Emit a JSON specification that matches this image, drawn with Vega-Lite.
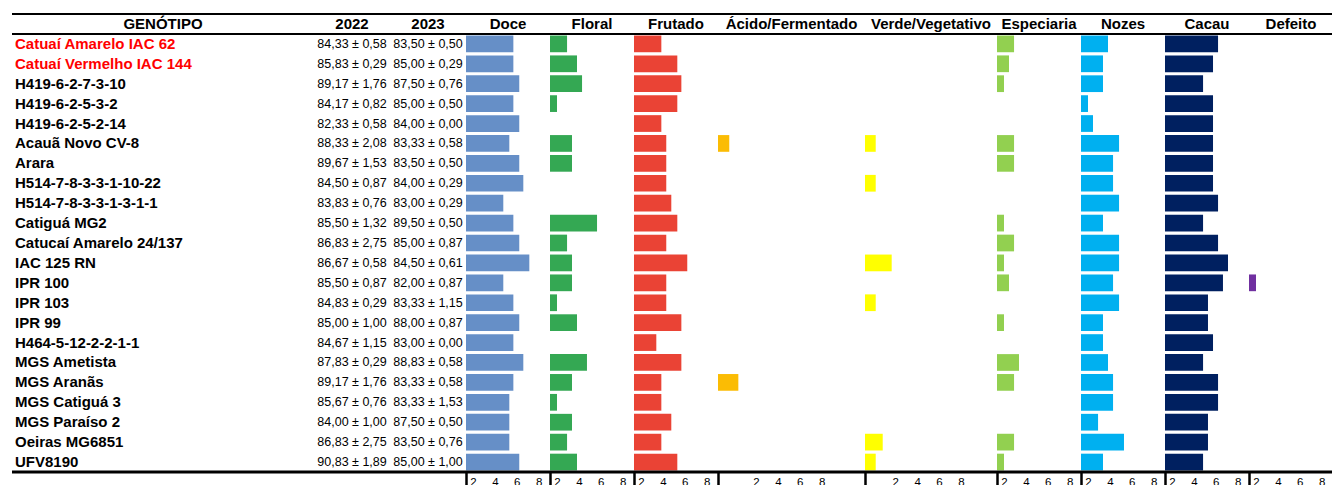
{
  "$schema": "https://vega.github.io/schema/vega-lite/v6.json",
  "padding": {"left": 10, "top": 12, "right": 0, "bottom": 0},
  "spacing": 0,
  "bounds": "flush",
  "params": [
    {"name": "ordem", "value": ["GENÓTIPO","Catuaí Amarelo IAC 62","Catuaí Vermelho IAC 144","H419-6-2-7-3-10","H419-6-2-5-3-2","H419-6-2-5-2-14","Acauã Novo CV-8","Arara","H514-7-8-3-3-1-10-22","H514-7-8-3-3-1-3-1-1","Catiguá MG2","Catucaí Amarelo 24/137","IAC 125 RN","IPR 100","IPR 103","IPR 99","H464-5-12-2-2-1-1","MGS Ametista","MGS Aranãs","MGS Catiguá 3","MGS Paraíso 2","Oeiras MG6851","UFV8190"]}
  ],
  "data": {"values": [
    {"genotipo":"Catuaí Amarelo IAC 62","testemunha":"sim","a2022":"84,33 ± 0,58","a2023":"83,50 ± 0,50","Doce":5.69,"Floral":2.92,"Frutado":3.86,"Acido":null,"Verde":null,"Especiaria":2.92,"Nozes":3.83,"Cacau":6.21,"Defeito":null},
    {"genotipo":"Catuaí Vermelho IAC 144","testemunha":"sim","a2022":"85,83 ± 0,29","a2023":"85,00 ± 0,29","Doce":5.69,"Floral":3.83,"Frutado":5.32,"Acido":null,"Verde":null,"Especiaria":2.46,"Nozes":3.37,"Cacau":5.75,"Defeito":null},
    {"genotipo":"H419-6-2-7-3-10","testemunha":"não","a2022":"89,17 ± 1,76","a2023":"87,50 ± 0,76","Doce":6.23,"Floral":4.29,"Frutado":5.69,"Acido":null,"Verde":null,"Especiaria":2.0,"Nozes":3.37,"Cacau":4.84,"Defeito":null},
    {"genotipo":"H419-6-2-5-3-2","testemunha":"não","a2022":"84,17 ± 0,82","a2023":"85,00 ± 0,50","Doce":5.69,"Floral":2.0,"Frutado":5.32,"Acido":null,"Verde":null,"Especiaria":null,"Nozes":2.0,"Cacau":5.75,"Defeito":null},
    {"genotipo":"H419-6-2-5-2-14","testemunha":"não","a2022":"82,33 ± 0,58","a2023":"84,00 ± 0,00","Doce":6.23,"Floral":null,"Frutado":3.86,"Acido":null,"Verde":null,"Especiaria":null,"Nozes":2.46,"Cacau":5.75,"Defeito":null},
    {"genotipo":"Acauã Novo CV-8","testemunha":"não","a2022":"88,33 ± 2,08","a2023":"83,33 ± 0,58","Doce":5.32,"Floral":3.37,"Frutado":4.31,"Acido":-0.44,"Verde":0.21,"Especiaria":2.92,"Nozes":4.84,"Cacau":5.75,"Defeito":null},
    {"genotipo":"Arara","testemunha":"não","a2022":"89,67 ± 1,53","a2023":"83,50 ± 0,50","Doce":6.23,"Floral":3.37,"Frutado":4.31,"Acido":null,"Verde":null,"Especiaria":2.92,"Nozes":4.29,"Cacau":5.75,"Defeito":null},
    {"genotipo":"H514-7-8-3-3-1-10-22","testemunha":"não","a2022":"84,50 ± 0,87","a2023":"84,00 ± 0,29","Doce":6.6,"Floral":null,"Frutado":4.31,"Acido":null,"Verde":0.21,"Especiaria":null,"Nozes":4.29,"Cacau":5.75,"Defeito":null},
    {"genotipo":"H514-7-8-3-3-1-3-1-1","testemunha":"não","a2022":"83,83 ± 0,76","a2023":"83,00 ± 0,29","Doce":4.77,"Floral":null,"Frutado":4.77,"Acido":null,"Verde":null,"Especiaria":null,"Nozes":4.84,"Cacau":6.21,"Defeito":null},
    {"genotipo":"Catiguá MG2","testemunha":"não","a2022":"85,50 ± 1,32","a2023":"89,50 ± 0,50","Doce":5.69,"Floral":5.66,"Frutado":5.32,"Acido":null,"Verde":null,"Especiaria":2.0,"Nozes":3.37,"Cacau":4.84,"Defeito":null},
    {"genotipo":"Catucaí Amarelo 24/137","testemunha":"não","a2022":"86,83 ± 2,75","a2023":"85,00 ± 0,87","Doce":6.23,"Floral":2.92,"Frutado":4.31,"Acido":null,"Verde":null,"Especiaria":2.92,"Nozes":4.84,"Cacau":6.21,"Defeito":null},
    {"genotipo":"IAC 125 RN","testemunha":"não","a2022":"86,67 ± 0,58","a2023":"84,50 ± 0,61","Doce":7.15,"Floral":3.37,"Frutado":6.23,"Acido":null,"Verde":1.67,"Especiaria":2.0,"Nozes":4.84,"Cacau":7.12,"Defeito":null},
    {"genotipo":"IPR 100","testemunha":"não","a2022":"85,50 ± 0,87","a2023":"82,00 ± 0,87","Doce":4.77,"Floral":3.37,"Frutado":4.31,"Acido":null,"Verde":null,"Especiaria":2.46,"Nozes":4.29,"Cacau":6.66,"Defeito":2.0},
    {"genotipo":"IPR 103","testemunha":"não","a2022":"84,83 ± 0,29","a2023":"83,33 ± 1,15","Doce":5.69,"Floral":2.0,"Frutado":4.31,"Acido":null,"Verde":0.21,"Especiaria":null,"Nozes":4.84,"Cacau":5.29,"Defeito":null},
    {"genotipo":"IPR 99","testemunha":"não","a2022":"85,00 ± 1,00","a2023":"88,00 ± 0,87","Doce":6.23,"Floral":3.83,"Frutado":5.69,"Acido":null,"Verde":null,"Especiaria":2.0,"Nozes":3.37,"Cacau":5.29,"Defeito":null},
    {"genotipo":"H464-5-12-2-2-1-1","testemunha":"não","a2022":"84,67 ± 1,15","a2023":"83,00 ± 0,00","Doce":5.69,"Floral":null,"Frutado":3.40,"Acido":null,"Verde":null,"Especiaria":null,"Nozes":3.37,"Cacau":5.75,"Defeito":null},
    {"genotipo":"MGS Ametista","testemunha":"não","a2022":"87,83 ± 0,29","a2023":"88,83 ± 0,58","Doce":6.6,"Floral":4.74,"Frutado":5.69,"Acido":null,"Verde":null,"Especiaria":3.37,"Nozes":3.83,"Cacau":4.84,"Defeito":null},
    {"genotipo":"MGS Aranãs","testemunha":"não","a2022":"89,17 ± 1,76","a2023":"83,33 ± 0,58","Doce":5.69,"Floral":3.37,"Frutado":3.86,"Acido":0.39,"Verde":null,"Especiaria":2.92,"Nozes":4.29,"Cacau":6.21,"Defeito":null},
    {"genotipo":"MGS Catiguá 3","testemunha":"não","a2022":"85,67 ± 0,76","a2023":"83,33 ± 1,53","Doce":5.32,"Floral":2.0,"Frutado":3.86,"Acido":null,"Verde":null,"Especiaria":null,"Nozes":4.29,"Cacau":6.21,"Defeito":null},
    {"genotipo":"MGS Paraíso 2","testemunha":"não","a2022":"84,00 ± 1,00","a2023":"87,50 ± 0,50","Doce":5.32,"Floral":3.37,"Frutado":4.77,"Acido":null,"Verde":null,"Especiaria":null,"Nozes":2.92,"Cacau":5.29,"Defeito":null},
    {"genotipo":"Oeiras MG6851","testemunha":"não","a2022":"86,83 ± 2,75","a2023":"83,50 ± 0,76","Doce":5.32,"Floral":2.92,"Frutado":3.86,"Acido":null,"Verde":0.85,"Especiaria":2.92,"Nozes":5.29,"Cacau":5.29,"Defeito":null},
    {"genotipo":"UFV8190","testemunha":"não","a2022":"90,83 ± 1,89","a2023":"85,00 ± 1,00","Doce":6.23,"Floral":3.83,"Frutado":5.32,"Acido":null,"Verde":0.21,"Especiaria":2.0,"Nozes":3.37,"Cacau":4.84,"Defeito":null}
  ]},
  "hconcat": [
    {"width": 302, "height": 458, "layer": [
      {"mark": {"type": "text", "align": "left", "dx": 3, "fontSize": 15, "fontWeight": "bold"},
       "encoding": {"y": {"field": "genotipo", "type": "nominal", "scale": {"type": "band", "domain": {"expr": "ordem"}, "paddingInner": 0, "paddingOuter": 0}, "axis": null},
         "x": {"datum": 0, "type": "quantitative", "scale": {"domain": [0, 1], "nice": false}, "axis": null},
         "text": {"field": "genotipo"},
         "color": {"field": "testemunha", "type": "nominal", "scale": {"domain": ["sim", "não"], "range": ["#FF0000", "#000000"]}, "legend": null}}},
      {"transform": [{"aggregate": [{"op": "count", "as": "n"}]}], "mark": {"type": "text", "text": "GENÓTIPO", "fontSize": 15, "fontWeight": "bold", "color": "#000000"},
       "encoding": {"y": {"datum": "GENÓTIPO", "type": "nominal", "scale": {"type": "band", "domain": {"expr": "ordem"}, "paddingInner": 0, "paddingOuter": 0}, "axis": null}, "x": {"datum": 0.5, "type": "quantitative"}}},
      {"transform": [{"aggregate": [{"op": "count", "as": "n"}]}], "mark": {"type": "rule", "strokeWidth": 2, "color": "#000000"}, "encoding": {"y": {"datum": "GENÓTIPO", "type": "nominal", "bandPosition": 0, "scale": {"type": "band", "domain": {"expr": "ordem"}, "paddingInner": 0, "paddingOuter": 0}, "axis": null}}},
      {"transform": [{"aggregate": [{"op": "count", "as": "n"}]}], "mark": {"type": "rule", "strokeWidth": 2, "color": "#000000"}, "encoding": {"y": {"datum": "Catuaí Amarelo IAC 62", "type": "nominal", "bandPosition": 0, "scale": {"type": "band", "domain": {"expr": "ordem"}, "paddingInner": 0, "paddingOuter": 0}, "axis": null}}},
      {"transform": [{"aggregate": [{"op": "count", "as": "n"}]}], "mark": {"type": "rule", "strokeWidth": 3, "color": "#000000"}, "encoding": {"y": {"datum": "UFV8190", "type": "nominal", "bandPosition": 1, "scale": {"type": "band", "domain": {"expr": "ordem"}, "paddingInner": 0, "paddingOuter": 0}, "axis": null}}}
    ]},
    {"width": 76, "height": 458, "layer": [
      {"mark": {"type": "text", "fontSize": 12.5, "color": "#000000"},
       "encoding": {"y": {"field": "genotipo", "type": "nominal", "scale": {"type": "band", "domain": {"expr": "ordem"}, "paddingInner": 0, "paddingOuter": 0}, "axis": null}, "text": {"field": "a2022"}}},
      {"transform": [{"aggregate": [{"op": "count", "as": "n"}]}], "mark": {"type": "text", "text": "2022", "fontSize": 15, "fontWeight": "bold", "color": "#000000"}, "encoding": {"y": {"datum": "GENÓTIPO", "type": "nominal", "scale": {"type": "band", "domain": {"expr": "ordem"}, "paddingInner": 0, "paddingOuter": 0}, "axis": null}}},
      {"transform": [{"aggregate": [{"op": "count", "as": "n"}]}], "mark": {"type": "rule", "strokeWidth": 2, "color": "#000000"}, "encoding": {"y": {"datum": "GENÓTIPO", "type": "nominal", "bandPosition": 0, "scale": {"type": "band", "domain": {"expr": "ordem"}, "paddingInner": 0, "paddingOuter": 0}, "axis": null}}},
      {"transform": [{"aggregate": [{"op": "count", "as": "n"}]}], "mark": {"type": "rule", "strokeWidth": 2, "color": "#000000"}, "encoding": {"y": {"datum": "Catuaí Amarelo IAC 62", "type": "nominal", "bandPosition": 0, "scale": {"type": "band", "domain": {"expr": "ordem"}, "paddingInner": 0, "paddingOuter": 0}, "axis": null}}},
      {"transform": [{"aggregate": [{"op": "count", "as": "n"}]}], "mark": {"type": "rule", "strokeWidth": 3, "color": "#000000"}, "encoding": {"y": {"datum": "UFV8190", "type": "nominal", "bandPosition": 1, "scale": {"type": "band", "domain": {"expr": "ordem"}, "paddingInner": 0, "paddingOuter": 0}, "axis": null}}}
    ]},
    {"width": 76, "height": 458, "layer": [
      {"mark": {"type": "text", "fontSize": 12.5, "color": "#000000"},
       "encoding": {"y": {"field": "genotipo", "type": "nominal", "scale": {"type": "band", "domain": {"expr": "ordem"}, "paddingInner": 0, "paddingOuter": 0}, "axis": null}, "text": {"field": "a2023"}}},
      {"transform": [{"aggregate": [{"op": "count", "as": "n"}]}], "mark": {"type": "text", "text": "2023", "fontSize": 15, "fontWeight": "bold", "color": "#000000"}, "encoding": {"y": {"datum": "GENÓTIPO", "type": "nominal", "scale": {"type": "band", "domain": {"expr": "ordem"}, "paddingInner": 0, "paddingOuter": 0}, "axis": null}}},
      {"transform": [{"aggregate": [{"op": "count", "as": "n"}]}], "mark": {"type": "rule", "strokeWidth": 2, "color": "#000000"}, "encoding": {"y": {"datum": "GENÓTIPO", "type": "nominal", "bandPosition": 0, "scale": {"type": "band", "domain": {"expr": "ordem"}, "paddingInner": 0, "paddingOuter": 0}, "axis": null}}},
      {"transform": [{"aggregate": [{"op": "count", "as": "n"}]}], "mark": {"type": "rule", "strokeWidth": 2, "color": "#000000"}, "encoding": {"y": {"datum": "Catuaí Amarelo IAC 62", "type": "nominal", "bandPosition": 0, "scale": {"type": "band", "domain": {"expr": "ordem"}, "paddingInner": 0, "paddingOuter": 0}, "axis": null}}},
      {"transform": [{"aggregate": [{"op": "count", "as": "n"}]}], "mark": {"type": "rule", "strokeWidth": 3, "color": "#000000"}, "encoding": {"y": {"datum": "UFV8190", "type": "nominal", "bandPosition": 1, "scale": {"type": "band", "domain": {"expr": "ordem"}, "paddingInner": 0, "paddingOuter": 0}, "axis": null}}}
    ]},
    {"width": 84, "height": 458, "layer": [
      {"transform": [{"filter": "isValid(datum.Doce)"}], "mark": {"type": "bar", "color": "#668FC7", "height": {"band": 0.84}},
       "encoding": {"y": {"field": "genotipo", "type": "nominal", "scale": {"type": "band", "domain": {"expr": "ordem"}, "paddingInner": 0, "paddingOuter": 0}, "axis": null},
         "x": {"field": "Doce", "type": "quantitative", "scale": {"domain": [1.36, 9.04], "nice": false, "zero": false},
           "axis": {"values": [1.36, 2, 4, 6, 8], "format": ".0f", "title": null, "domain": false, "grid": false, "tickSize": 15, "tickWidth": 2.5, "tickColor": {"condition": {"test": "datum.value < 1.9", "value": "#000000"}, "value": "transparent"}, "labelExpr": "datum.value < 1.9 ? '' : datum.label", "labelPadding": -11, "labelFontSize": 11.5, "labelColor": "#000000", "labelFlush": false, "labelOverlap": false}},
         "x2": {"datum": 1.36}}},
      {"transform": [{"aggregate": [{"op": "count", "as": "n"}]}], "mark": {"type": "text", "text": "Doce", "fontSize": 15, "fontWeight": "bold", "color": "#000000"}, "encoding": {"y": {"datum": "GENÓTIPO", "type": "nominal", "scale": {"type": "band", "domain": {"expr": "ordem"}, "paddingInner": 0, "paddingOuter": 0}, "axis": null}}},
      {"transform": [{"aggregate": [{"op": "count", "as": "n"}]}], "mark": {"type": "rule", "strokeWidth": 2, "color": "#000000"}, "encoding": {"y": {"datum": "GENÓTIPO", "type": "nominal", "bandPosition": 0, "scale": {"type": "band", "domain": {"expr": "ordem"}, "paddingInner": 0, "paddingOuter": 0}, "axis": null}}},
      {"transform": [{"aggregate": [{"op": "count", "as": "n"}]}], "mark": {"type": "rule", "strokeWidth": 2, "color": "#000000"}, "encoding": {"y": {"datum": "Catuaí Amarelo IAC 62", "type": "nominal", "bandPosition": 0, "scale": {"type": "band", "domain": {"expr": "ordem"}, "paddingInner": 0, "paddingOuter": 0}, "axis": null}}},
      {"transform": [{"aggregate": [{"op": "count", "as": "n"}]}], "mark": {"type": "rule", "strokeWidth": 3, "color": "#000000"}, "encoding": {"y": {"datum": "UFV8190", "type": "nominal", "bandPosition": 1, "scale": {"type": "band", "domain": {"expr": "ordem"}, "paddingInner": 0, "paddingOuter": 0}, "axis": null}}}
    ]},
    {"width": 84, "height": 458, "layer": [
      {"transform": [{"filter": "isValid(datum.Floral)"}], "mark": {"type": "bar", "color": "#34A853", "height": {"band": 0.84}},
       "encoding": {"y": {"field": "genotipo", "type": "nominal", "scale": {"type": "band", "domain": {"expr": "ordem"}, "paddingInner": 0, "paddingOuter": 0}, "axis": null},
         "x": {"field": "Floral", "type": "quantitative", "scale": {"domain": [1.36, 9.04], "nice": false, "zero": false},
           "axis": {"values": [1.36, 2, 4, 6, 8], "format": ".0f", "title": null, "domain": false, "grid": false, "tickSize": 15, "tickWidth": 2.5, "tickColor": {"condition": {"test": "datum.value < 1.9", "value": "#000000"}, "value": "transparent"}, "labelExpr": "datum.value < 1.9 ? '' : datum.label", "labelPadding": -11, "labelFontSize": 11.5, "labelColor": "#000000", "labelFlush": false, "labelOverlap": false}},
         "x2": {"datum": 1.36}}},
      {"transform": [{"aggregate": [{"op": "count", "as": "n"}]}], "mark": {"type": "text", "text": "Floral", "fontSize": 15, "fontWeight": "bold", "color": "#000000"}, "encoding": {"y": {"datum": "GENÓTIPO", "type": "nominal", "scale": {"type": "band", "domain": {"expr": "ordem"}, "paddingInner": 0, "paddingOuter": 0}, "axis": null}}},
      {"transform": [{"aggregate": [{"op": "count", "as": "n"}]}], "mark": {"type": "rule", "strokeWidth": 2, "color": "#000000"}, "encoding": {"y": {"datum": "GENÓTIPO", "type": "nominal", "bandPosition": 0, "scale": {"type": "band", "domain": {"expr": "ordem"}, "paddingInner": 0, "paddingOuter": 0}, "axis": null}}},
      {"transform": [{"aggregate": [{"op": "count", "as": "n"}]}], "mark": {"type": "rule", "strokeWidth": 2, "color": "#000000"}, "encoding": {"y": {"datum": "Catuaí Amarelo IAC 62", "type": "nominal", "bandPosition": 0, "scale": {"type": "band", "domain": {"expr": "ordem"}, "paddingInner": 0, "paddingOuter": 0}, "axis": null}}},
      {"transform": [{"aggregate": [{"op": "count", "as": "n"}]}], "mark": {"type": "rule", "strokeWidth": 3, "color": "#000000"}, "encoding": {"y": {"datum": "UFV8190", "type": "nominal", "bandPosition": 1, "scale": {"type": "band", "domain": {"expr": "ordem"}, "paddingInner": 0, "paddingOuter": 0}, "axis": null}}}
    ]},
    {"width": 84, "height": 458, "layer": [
      {"transform": [{"filter": "isValid(datum.Frutado)"}], "mark": {"type": "bar", "color": "#EA4335", "height": {"band": 0.84}},
       "encoding": {"y": {"field": "genotipo", "type": "nominal", "scale": {"type": "band", "domain": {"expr": "ordem"}, "paddingInner": 0, "paddingOuter": 0}, "axis": null},
         "x": {"field": "Frutado", "type": "quantitative", "scale": {"domain": [1.36, 9.04], "nice": false, "zero": false},
           "axis": {"values": [1.36, 2, 4, 6, 8], "format": ".0f", "title": null, "domain": false, "grid": false, "tickSize": 15, "tickWidth": 2.5, "tickColor": {"condition": {"test": "datum.value < 1.9", "value": "#000000"}, "value": "transparent"}, "labelExpr": "datum.value < 1.9 ? '' : datum.label", "labelPadding": -11, "labelFontSize": 11.5, "labelColor": "#000000", "labelFlush": false, "labelOverlap": false}},
         "x2": {"datum": 1.36}}},
      {"transform": [{"aggregate": [{"op": "count", "as": "n"}]}], "mark": {"type": "text", "text": "Frutado", "fontSize": 15, "fontWeight": "bold", "color": "#000000"}, "encoding": {"y": {"datum": "GENÓTIPO", "type": "nominal", "scale": {"type": "band", "domain": {"expr": "ordem"}, "paddingInner": 0, "paddingOuter": 0}, "axis": null}}},
      {"transform": [{"aggregate": [{"op": "count", "as": "n"}]}], "mark": {"type": "rule", "strokeWidth": 2, "color": "#000000"}, "encoding": {"y": {"datum": "GENÓTIPO", "type": "nominal", "bandPosition": 0, "scale": {"type": "band", "domain": {"expr": "ordem"}, "paddingInner": 0, "paddingOuter": 0}, "axis": null}}},
      {"transform": [{"aggregate": [{"op": "count", "as": "n"}]}], "mark": {"type": "rule", "strokeWidth": 2, "color": "#000000"}, "encoding": {"y": {"datum": "Catuaí Amarelo IAC 62", "type": "nominal", "bandPosition": 0, "scale": {"type": "band", "domain": {"expr": "ordem"}, "paddingInner": 0, "paddingOuter": 0}, "axis": null}}},
      {"transform": [{"aggregate": [{"op": "count", "as": "n"}]}], "mark": {"type": "rule", "strokeWidth": 3, "color": "#000000"}, "encoding": {"y": {"datum": "UFV8190", "type": "nominal", "bandPosition": 1, "scale": {"type": "band", "domain": {"expr": "ordem"}, "paddingInner": 0, "paddingOuter": 0}, "axis": null}}}
    ]},
    {"width": 147, "height": 458, "layer": [
      {"transform": [{"filter": "isValid(datum.Acido)"}], "mark": {"type": "bar", "color": "#FBBC04", "height": {"band": 0.84}},
       "encoding": {"y": {"field": "genotipo", "type": "nominal", "scale": {"type": "band", "domain": {"expr": "ordem"}, "paddingInner": 0, "paddingOuter": 0}, "axis": null},
         "x": {"field": "Acido", "type": "quantitative", "scale": {"domain": [-1.47, 11.97], "nice": false, "zero": false},
           "axis": {"values": [-1.47, 2, 4, 6, 8], "format": ".0f", "title": null, "domain": false, "grid": false, "tickSize": 15, "tickWidth": 2.5, "tickColor": {"condition": {"test": "datum.value < 1.9", "value": "#000000"}, "value": "transparent"}, "labelExpr": "datum.value < 1.9 ? '' : datum.label", "labelPadding": -11, "labelFontSize": 11.5, "labelColor": "#000000", "labelFlush": false, "labelOverlap": false}},
         "x2": {"datum": -1.47}}},
      {"transform": [{"aggregate": [{"op": "count", "as": "n"}]}], "mark": {"type": "text", "text": "Ácido/Fermentado", "fontSize": 15, "fontWeight": "bold", "color": "#000000"}, "encoding": {"y": {"datum": "GENÓTIPO", "type": "nominal", "scale": {"type": "band", "domain": {"expr": "ordem"}, "paddingInner": 0, "paddingOuter": 0}, "axis": null}}},
      {"transform": [{"aggregate": [{"op": "count", "as": "n"}]}], "mark": {"type": "rule", "strokeWidth": 2, "color": "#000000"}, "encoding": {"y": {"datum": "GENÓTIPO", "type": "nominal", "bandPosition": 0, "scale": {"type": "band", "domain": {"expr": "ordem"}, "paddingInner": 0, "paddingOuter": 0}, "axis": null}}},
      {"transform": [{"aggregate": [{"op": "count", "as": "n"}]}], "mark": {"type": "rule", "strokeWidth": 2, "color": "#000000"}, "encoding": {"y": {"datum": "Catuaí Amarelo IAC 62", "type": "nominal", "bandPosition": 0, "scale": {"type": "band", "domain": {"expr": "ordem"}, "paddingInner": 0, "paddingOuter": 0}, "axis": null}}},
      {"transform": [{"aggregate": [{"op": "count", "as": "n"}]}], "mark": {"type": "rule", "strokeWidth": 3, "color": "#000000"}, "encoding": {"y": {"datum": "UFV8190", "type": "nominal", "bandPosition": 1, "scale": {"type": "band", "domain": {"expr": "ordem"}, "paddingInner": 0, "paddingOuter": 0}, "axis": null}}}
    ]},
    {"width": 132, "height": 458, "layer": [
      {"transform": [{"filter": "isValid(datum.Verde)"}], "mark": {"type": "bar", "color": "#FFFF00", "height": {"band": 0.84}},
       "encoding": {"y": {"field": "genotipo", "type": "nominal", "scale": {"type": "band", "domain": {"expr": "ordem"}, "paddingInner": 0, "paddingOuter": 0}, "axis": null},
         "x": {"field": "Verde", "type": "quantitative", "scale": {"domain": [-0.77, 11.3], "nice": false, "zero": false},
           "axis": {"values": [-0.77, 2, 4, 6, 8], "format": ".0f", "title": null, "domain": false, "grid": false, "tickSize": 15, "tickWidth": 2.5, "tickColor": {"condition": {"test": "datum.value < 1.9", "value": "#000000"}, "value": "transparent"}, "labelExpr": "datum.value < 1.9 ? '' : datum.label", "labelPadding": -11, "labelFontSize": 11.5, "labelColor": "#000000", "labelFlush": false, "labelOverlap": false}},
         "x2": {"datum": -0.77}}},
      {"transform": [{"aggregate": [{"op": "count", "as": "n"}]}], "mark": {"type": "text", "text": "Verde/Vegetativo", "fontSize": 15, "fontWeight": "bold", "color": "#000000"}, "encoding": {"y": {"datum": "GENÓTIPO", "type": "nominal", "scale": {"type": "band", "domain": {"expr": "ordem"}, "paddingInner": 0, "paddingOuter": 0}, "axis": null}}},
      {"transform": [{"aggregate": [{"op": "count", "as": "n"}]}], "mark": {"type": "rule", "strokeWidth": 2, "color": "#000000"}, "encoding": {"y": {"datum": "GENÓTIPO", "type": "nominal", "bandPosition": 0, "scale": {"type": "band", "domain": {"expr": "ordem"}, "paddingInner": 0, "paddingOuter": 0}, "axis": null}}},
      {"transform": [{"aggregate": [{"op": "count", "as": "n"}]}], "mark": {"type": "rule", "strokeWidth": 2, "color": "#000000"}, "encoding": {"y": {"datum": "Catuaí Amarelo IAC 62", "type": "nominal", "bandPosition": 0, "scale": {"type": "band", "domain": {"expr": "ordem"}, "paddingInner": 0, "paddingOuter": 0}, "axis": null}}},
      {"transform": [{"aggregate": [{"op": "count", "as": "n"}]}], "mark": {"type": "rule", "strokeWidth": 3, "color": "#000000"}, "encoding": {"y": {"datum": "UFV8190", "type": "nominal", "bandPosition": 1, "scale": {"type": "band", "domain": {"expr": "ordem"}, "paddingInner": 0, "paddingOuter": 0}, "axis": null}}}
    ]},
    {"width": 84, "height": 458, "layer": [
      {"transform": [{"filter": "isValid(datum.Especiaria)"}], "mark": {"type": "bar", "color": "#92D050", "height": {"band": 0.84}},
       "encoding": {"y": {"field": "genotipo", "type": "nominal", "scale": {"type": "band", "domain": {"expr": "ordem"}, "paddingInner": 0, "paddingOuter": 0}, "axis": null},
         "x": {"field": "Especiaria", "type": "quantitative", "scale": {"domain": [1.36, 9.04], "nice": false, "zero": false},
           "axis": {"values": [1.36, 2, 4, 6, 8], "format": ".0f", "title": null, "domain": false, "grid": false, "tickSize": 15, "tickWidth": 2.5, "tickColor": {"condition": {"test": "datum.value < 1.9", "value": "#000000"}, "value": "transparent"}, "labelExpr": "datum.value < 1.9 ? '' : datum.label", "labelPadding": -11, "labelFontSize": 11.5, "labelColor": "#000000", "labelFlush": false, "labelOverlap": false}},
         "x2": {"datum": 1.36}}},
      {"transform": [{"aggregate": [{"op": "count", "as": "n"}]}], "mark": {"type": "text", "text": "Especiaria", "fontSize": 15, "fontWeight": "bold", "color": "#000000"}, "encoding": {"y": {"datum": "GENÓTIPO", "type": "nominal", "scale": {"type": "band", "domain": {"expr": "ordem"}, "paddingInner": 0, "paddingOuter": 0}, "axis": null}}},
      {"transform": [{"aggregate": [{"op": "count", "as": "n"}]}], "mark": {"type": "rule", "strokeWidth": 2, "color": "#000000"}, "encoding": {"y": {"datum": "GENÓTIPO", "type": "nominal", "bandPosition": 0, "scale": {"type": "band", "domain": {"expr": "ordem"}, "paddingInner": 0, "paddingOuter": 0}, "axis": null}}},
      {"transform": [{"aggregate": [{"op": "count", "as": "n"}]}], "mark": {"type": "rule", "strokeWidth": 2, "color": "#000000"}, "encoding": {"y": {"datum": "Catuaí Amarelo IAC 62", "type": "nominal", "bandPosition": 0, "scale": {"type": "band", "domain": {"expr": "ordem"}, "paddingInner": 0, "paddingOuter": 0}, "axis": null}}},
      {"transform": [{"aggregate": [{"op": "count", "as": "n"}]}], "mark": {"type": "rule", "strokeWidth": 3, "color": "#000000"}, "encoding": {"y": {"datum": "UFV8190", "type": "nominal", "bandPosition": 1, "scale": {"type": "band", "domain": {"expr": "ordem"}, "paddingInner": 0, "paddingOuter": 0}, "axis": null}}}
    ]},
    {"width": 84, "height": 458, "layer": [
      {"transform": [{"filter": "isValid(datum.Nozes)"}], "mark": {"type": "bar", "color": "#00B0F0", "height": {"band": 0.84}},
       "encoding": {"y": {"field": "genotipo", "type": "nominal", "scale": {"type": "band", "domain": {"expr": "ordem"}, "paddingInner": 0, "paddingOuter": 0}, "axis": null},
         "x": {"field": "Nozes", "type": "quantitative", "scale": {"domain": [1.36, 9.04], "nice": false, "zero": false},
           "axis": {"values": [1.36, 2, 4, 6, 8], "format": ".0f", "title": null, "domain": false, "grid": false, "tickSize": 15, "tickWidth": 2.5, "tickColor": {"condition": {"test": "datum.value < 1.9", "value": "#000000"}, "value": "transparent"}, "labelExpr": "datum.value < 1.9 ? '' : datum.label", "labelPadding": -11, "labelFontSize": 11.5, "labelColor": "#000000", "labelFlush": false, "labelOverlap": false}},
         "x2": {"datum": 1.36}}},
      {"transform": [{"aggregate": [{"op": "count", "as": "n"}]}], "mark": {"type": "text", "text": "Nozes", "fontSize": 15, "fontWeight": "bold", "color": "#000000"}, "encoding": {"y": {"datum": "GENÓTIPO", "type": "nominal", "scale": {"type": "band", "domain": {"expr": "ordem"}, "paddingInner": 0, "paddingOuter": 0}, "axis": null}}},
      {"transform": [{"aggregate": [{"op": "count", "as": "n"}]}], "mark": {"type": "rule", "strokeWidth": 2, "color": "#000000"}, "encoding": {"y": {"datum": "GENÓTIPO", "type": "nominal", "bandPosition": 0, "scale": {"type": "band", "domain": {"expr": "ordem"}, "paddingInner": 0, "paddingOuter": 0}, "axis": null}}},
      {"transform": [{"aggregate": [{"op": "count", "as": "n"}]}], "mark": {"type": "rule", "strokeWidth": 2, "color": "#000000"}, "encoding": {"y": {"datum": "Catuaí Amarelo IAC 62", "type": "nominal", "bandPosition": 0, "scale": {"type": "band", "domain": {"expr": "ordem"}, "paddingInner": 0, "paddingOuter": 0}, "axis": null}}},
      {"transform": [{"aggregate": [{"op": "count", "as": "n"}]}], "mark": {"type": "rule", "strokeWidth": 3, "color": "#000000"}, "encoding": {"y": {"datum": "UFV8190", "type": "nominal", "bandPosition": 1, "scale": {"type": "band", "domain": {"expr": "ordem"}, "paddingInner": 0, "paddingOuter": 0}, "axis": null}}}
    ]},
    {"width": 84, "height": 458, "layer": [
      {"transform": [{"filter": "isValid(datum.Cacau)"}], "mark": {"type": "bar", "color": "#002060", "height": {"band": 0.84}},
       "encoding": {"y": {"field": "genotipo", "type": "nominal", "scale": {"type": "band", "domain": {"expr": "ordem"}, "paddingInner": 0, "paddingOuter": 0}, "axis": null},
         "x": {"field": "Cacau", "type": "quantitative", "scale": {"domain": [1.36, 9.04], "nice": false, "zero": false},
           "axis": {"values": [1.36, 2, 4, 6, 8], "format": ".0f", "title": null, "domain": false, "grid": false, "tickSize": 15, "tickWidth": 2.5, "tickColor": {"condition": {"test": "datum.value < 1.9", "value": "#000000"}, "value": "transparent"}, "labelExpr": "datum.value < 1.9 ? '' : datum.label", "labelPadding": -11, "labelFontSize": 11.5, "labelColor": "#000000", "labelFlush": false, "labelOverlap": false}},
         "x2": {"datum": 1.36}}},
      {"transform": [{"aggregate": [{"op": "count", "as": "n"}]}], "mark": {"type": "text", "text": "Cacau", "fontSize": 15, "fontWeight": "bold", "color": "#000000"}, "encoding": {"y": {"datum": "GENÓTIPO", "type": "nominal", "scale": {"type": "band", "domain": {"expr": "ordem"}, "paddingInner": 0, "paddingOuter": 0}, "axis": null}}},
      {"transform": [{"aggregate": [{"op": "count", "as": "n"}]}], "mark": {"type": "rule", "strokeWidth": 2, "color": "#000000"}, "encoding": {"y": {"datum": "GENÓTIPO", "type": "nominal", "bandPosition": 0, "scale": {"type": "band", "domain": {"expr": "ordem"}, "paddingInner": 0, "paddingOuter": 0}, "axis": null}}},
      {"transform": [{"aggregate": [{"op": "count", "as": "n"}]}], "mark": {"type": "rule", "strokeWidth": 2, "color": "#000000"}, "encoding": {"y": {"datum": "Catuaí Amarelo IAC 62", "type": "nominal", "bandPosition": 0, "scale": {"type": "band", "domain": {"expr": "ordem"}, "paddingInner": 0, "paddingOuter": 0}, "axis": null}}},
      {"transform": [{"aggregate": [{"op": "count", "as": "n"}]}], "mark": {"type": "rule", "strokeWidth": 3, "color": "#000000"}, "encoding": {"y": {"datum": "UFV8190", "type": "nominal", "bandPosition": 1, "scale": {"type": "band", "domain": {"expr": "ordem"}, "paddingInner": 0, "paddingOuter": 0}, "axis": null}}}
    ]},
    {"width": 84, "height": 458, "layer": [
      {"transform": [{"filter": "isValid(datum.Defeito)"}], "mark": {"type": "bar", "color": "#7030A0", "height": {"band": 0.84}},
       "encoding": {"y": {"field": "genotipo", "type": "nominal", "scale": {"type": "band", "domain": {"expr": "ordem"}, "paddingInner": 0, "paddingOuter": 0}, "axis": null},
         "x": {"field": "Defeito", "type": "quantitative", "scale": {"domain": [1.36, 9.04], "nice": false, "zero": false},
           "axis": {"values": [1.36, 2, 4, 6, 8, 9.04], "format": ".0f", "title": null, "domain": false, "grid": false, "tickSize": 15, "tickWidth": 2.5, "tickColor": {"condition": {"test": "datum.value < 1.9 || datum.value > 9", "value": "#000000"}, "value": "transparent"}, "labelExpr": "datum.value < 1.9 || datum.value > 9 ? '' : datum.label", "labelPadding": -11, "labelFontSize": 11.5, "labelColor": "#000000", "labelFlush": false, "labelOverlap": false}},
         "x2": {"datum": 1.36}}},
      {"transform": [{"aggregate": [{"op": "count", "as": "n"}]}], "mark": {"type": "text", "text": "Defeito", "fontSize": 15, "fontWeight": "bold", "color": "#000000"}, "encoding": {"y": {"datum": "GENÓTIPO", "type": "nominal", "scale": {"type": "band", "domain": {"expr": "ordem"}, "paddingInner": 0, "paddingOuter": 0}, "axis": null}}},
      {"transform": [{"aggregate": [{"op": "count", "as": "n"}]}], "mark": {"type": "rule", "strokeWidth": 2, "color": "#000000"}, "encoding": {"y": {"datum": "GENÓTIPO", "type": "nominal", "bandPosition": 0, "scale": {"type": "band", "domain": {"expr": "ordem"}, "paddingInner": 0, "paddingOuter": 0}, "axis": null}}},
      {"transform": [{"aggregate": [{"op": "count", "as": "n"}]}], "mark": {"type": "rule", "strokeWidth": 2, "color": "#000000"}, "encoding": {"y": {"datum": "Catuaí Amarelo IAC 62", "type": "nominal", "bandPosition": 0, "scale": {"type": "band", "domain": {"expr": "ordem"}, "paddingInner": 0, "paddingOuter": 0}, "axis": null}}},
      {"transform": [{"aggregate": [{"op": "count", "as": "n"}]}], "mark": {"type": "rule", "strokeWidth": 3, "color": "#000000"}, "encoding": {"y": {"datum": "UFV8190", "type": "nominal", "bandPosition": 1, "scale": {"type": "band", "domain": {"expr": "ordem"}, "paddingInner": 0, "paddingOuter": 0}, "axis": null}}}
    ]}
  ],
  "config": {
    "font": "Liberation Sans",
    "view": {"stroke": null},
    "axis": {"labelFont": "Liberation Sans"}
  }
}
